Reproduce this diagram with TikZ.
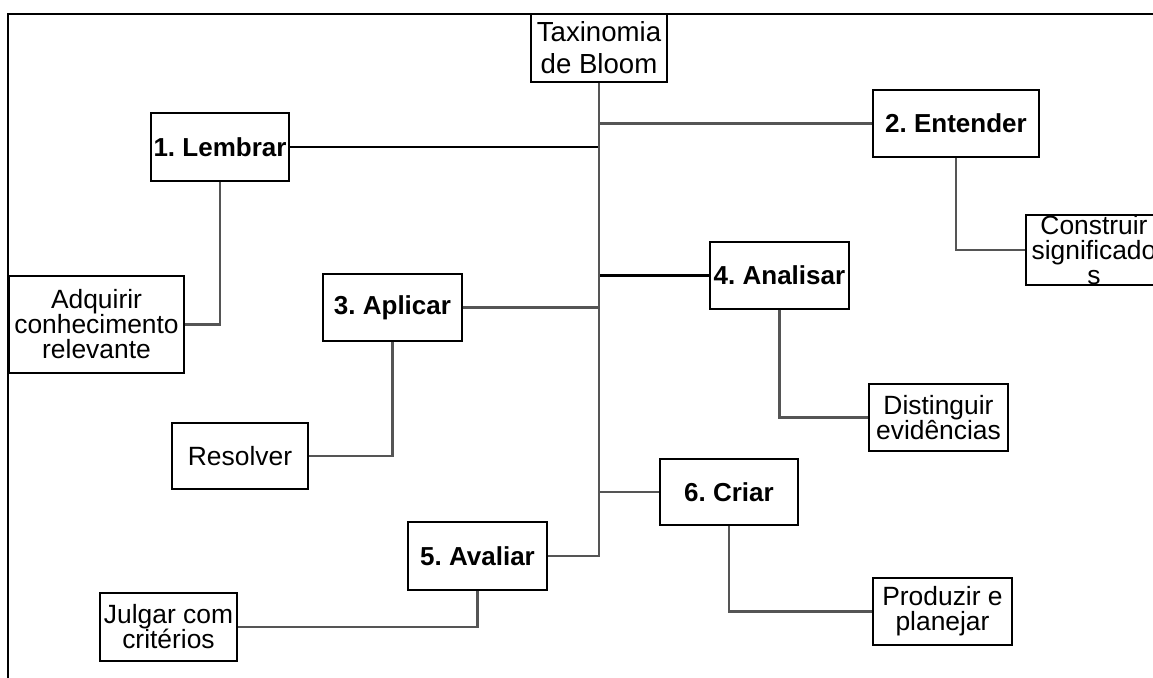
\documentclass[tikz,border=0pt]{standalone}
\usepackage{fontspec}
\setmainfont{Liberation Sans}
\usepackage{tikz}
\usetikzlibrary{positioning}
\definecolor{linkGray}{HTML}{555555}
\frenchspacing

\begin{document}
\begin{tikzpicture}[
    x=0.5pt,
    y=-0.5pt,
    thick,
    box/.style={rectangle,draw=black,line width=0.9pt,fill=white,inner sep=0pt,align=center,
        font=\fontsize{13.2}{12.5}\selectfont},
    level/.style={box,font=\bfseries\fontsize{13}{12.5}\selectfont},
    link/.style={draw=linkGray,line width=1.1pt}
]
    \useasboundingbox (0,0) rectangle (1153,677);
    \clip (0,0) rectangle (1153,677);

    \draw[line width=0.9pt] (7,14) -- (1170,14);
    \draw[line width=0.9pt] (8,14) -- (8,690);

    \node[box,minimum width=68pt,minimum height=34pt,font=\fontsize{13.8}{16}\selectfont] (tax) at (599,48) {Taxinomia\\de Bloom};

    \node[level,minimum width=69pt,minimum height=34pt] (lembrar) at (220,147) {1. Lembrar};
    \node[level,minimum width=83pt,minimum height=33.5pt] (entender) at (956,123.5) {2. Entender};
    \node[level,minimum width=69.5pt,minimum height=33.5pt] (aplicar) at (392.5,307.5) {3. Aplicar};
    \node[level,minimum width=69.5pt,minimum height=33.5pt] (analisar) at (779.5,275.5) {4. Analisar};
    \node[level,minimum width=69.5pt,minimum height=34pt] (avaliar) at (477.5,556) {5. Avaliar};
    \node[level,minimum width=69pt,minimum height=33pt] (criar) at (729,492) {6. Criar};

    \node[box,minimum width=87.5pt,minimum height=48.5pt] (adquirir) at (96.5,324.5) {Adquirir\\conhecimento\\relevante};
    \node[box,minimum width=68pt,minimum height=33pt] (construir) at (1094,250) {Construir\\significado\\s};
    \node[box,minimum width=68pt,minimum height=33pt] (resolver) at (240,456) {Resolver};
    \node[box,minimum width=69.5pt,minimum height=33.5pt] (distinguir) at (938.5,417.5) {Distinguir\\evidências};
    \node[box,minimum width=68.5pt,minimum height=34pt] (julgar) at (168.5,627) {Julgar com\\critérios};
    \node[box,minimum width=69.5pt,minimum height=33.5pt] (produzir) at (942.5,611.5) {Produzir e\\planejar};

    \draw[link,draw=black] (tax.south) |- (lembrar.east);
    \draw[link] (tax.south) |- (entender.west);
    \draw[link] (tax.south) |- (aplicar.east);
    \draw[link,draw=black] (tax.south) |- (analisar.west);
    \draw[link] (tax.south) |- (criar.west);
    \draw[link] (tax.south) |- (avaliar.east);

    \draw[link] (lembrar.south) |- (adquirir.east);
    \draw[link] (entender.south) |- (construir.west);
    \draw[link] (aplicar.south) |- (resolver.east);
    \draw[link] (analisar.south) |- (distinguir.west);
    \draw[link] (criar.south) |- (produzir.west);
    \draw[link] (avaliar.south) |- (julgar.east);
\end{tikzpicture}
\end{document}
